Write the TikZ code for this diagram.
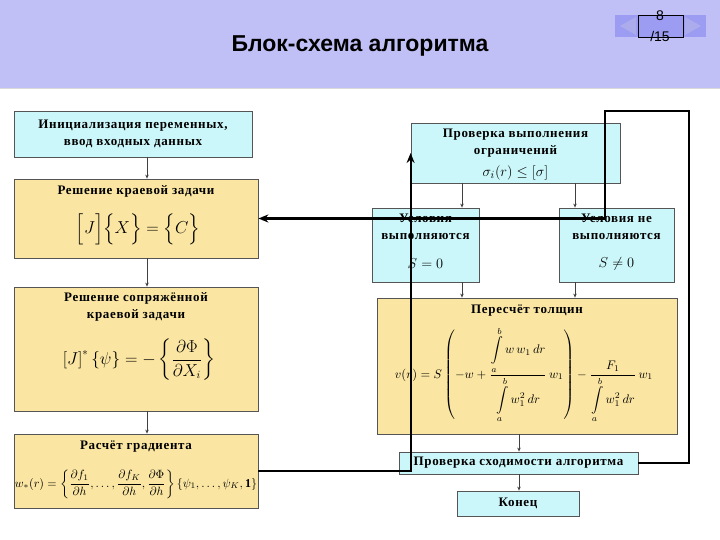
\documentclass[tikz,border=0pt]{standalone}
\usepackage{amsmath}
\usepackage{graphicx}
\usepackage{fontspec}
\setmainfont{Liberation Serif}
\newfontfamily\arialfont{Liberation Sans}
\newfontfamily\boxfont[LetterSpace=5]{Liberation Serif}
\usetikzlibrary{arrows.meta}
\definecolor{barcol}{HTML}{C0C0F7}
\definecolor{navcol}{HTML}{9C9CF2}
\definecolor{navtri}{HTML}{ACACEC}
\definecolor{cyanbox}{HTML}{CCF7FA}
\definecolor{yelbox}{HTML}{FAE6A2}
\definecolor{edgecol}{HTML}{555555}
\tikzset{
  boxbase/.style={draw=edgecol, line width=0.8pt, inner sep=0pt, align=center},
  cbox/.style={boxbase, fill=cyanbox},
  ybox/.style={boxbase, fill=yelbox},
  lblfont/.style={font=\boxfont\fontsize{13}{16.5}\selectfont\bfseries},
  lbl/.style={inner sep=0pt, align=center, lblfont},
  thinarrow/.style={draw=black!75, line width=0.7pt, -{Stealth[length=4pt,width=3.5pt]}},
  thickarrow/.style={draw=black, line width=2.2pt, -{Stealth[length=10pt,width=8pt]}}
}
\begin{document}
\begin{tikzpicture}[x=1pt,y=-1pt]
\useasboundingbox (0,0) rectangle (720,540);
\fill[white] (0,0) rectangle (720,540);
\fill[barcol] (0,0) rectangle (720,88);
\draw[black!15, line width=0.8pt] (0,88.5) -- (720,88.5);
% title
\node[inner sep=0pt, font=\arialfont\bfseries\fontsize{23}{27}\selectfont] (title) at (360,46) {Блок-схема алгоритма};
% navigation
\fill[navcol] (615,15) rectangle (706,37);
\fill[navtri] (620,26) -- (636,17) -- (636,35) -- cycle;
\fill[navtri] (685,17) -- (685,35) -- (701,26) -- cycle;
\node[draw=black, line width=0.7pt, fill=navcol, minimum width=45pt, minimum height=22pt, inner sep=0pt] (nav) at (660.5,26) {};
\node[inner sep=0pt, font=\arialfont\fontsize{14}{16}\selectfont] (pg) at (660,16) {8};
\node[inner sep=0pt, font=\arialfont\fontsize{14}{16}\selectfont] (pgt) at (660,36) {/15};

% boxes
\node[cbox, minimum width=238pt, minimum height=46pt, lblfont] (init) at (133,134) {Инициализация переменных,\\ввод входных данных};
\node[ybox, minimum width=244pt, minimum height=79pt] (b2) at (136,218.5) {};
\node[ybox, minimum width=244pt, minimum height=124pt] (b3) at (136,349) {};
\node[ybox, minimum width=244pt, minimum height=74pt] (grad) at (136,471) {};
\node[cbox, minimum width=209pt, minimum height=60pt] (chk) at (515.5,153) {};
\node[cbox, minimum width=107pt, minimum height=74pt] (ok) at (425.5,245) {};
\node[cbox, minimum width=115pt, minimum height=74pt] (nok) at (616.5,245) {};
\node[ybox, minimum width=300pt, minimum height=136pt] (recalc) at (527,366) {};
\node[cbox, minimum width=239pt, minimum height=22pt, lblfont] (conv) at (518.5,463) {Проверка сходимости алгоритма};
\node[cbox, minimum width=122pt, minimum height=25pt, lblfont] (fin) at (518,503.5) {Конец};

% texts inside boxes
\node[lbl] (t2) at (136,191) {Решение краевой задачи};
\node[inner sep=0pt, font=\fontsize{18}{22}\selectfont] (f2) at (138,229) {$\Bigl[J\Bigr]\Bigl\{X\Bigr\}=\Bigl\{C\Bigr\}$};
\node[lbl] (t3) at (136,307) {Решение сопряжённой\\краевой задачи};
\node[inner sep=0pt, font=\fontsize{16}{20}\selectfont] (f3) at (139,360) {$\left[J\right]^{*}\left\{\psi\right\}=-\left\{\dfrac{\partial\Phi}{\partial X_i}\right\}$};
\node[lbl] (t4) at (136,447) {Расчёт градиента};
\node[inner sep=0pt] (f4) at (136,484) {\resizebox{242pt}{!}{$w_*(r)=\left\{\dfrac{\partial f_1}{\partial h},\ldots,\dfrac{\partial f_K}{\partial h},\dfrac{\partial\Phi}{\partial h}\right\}\left\{\psi_1,\ldots,\psi_K,\mathbf{1}\right\}$}};
\node[lbl] (tc) at (515.5,143) {Проверка выполнения\\ограничений};
\node[inner sep=0pt, font=\fontsize{15}{18}\selectfont] (fc) at (515.5,173) {$\sigma_i(r)\le[\sigma]$};
\node[lbl] (tok) at (425.5,227) {Условия\\выполняются};
\node[inner sep=0pt, font=\fontsize{14}{18}\selectfont] (fok) at (425.5,264) {$S=0$};
\node[lbl] (tnok) at (616.5,227) {Условия не\\выполняются};
\node[inner sep=0pt, font=\fontsize{14}{18}\selectfont] (fnok) at (616.5,264) {$S\neq0$};
\node[lbl] (tr) at (527,311) {Пересчёт толщин};
\node[inner sep=0pt] (fr) at (524,375) {\resizebox{258pt}{!}{$v(r)=S\left(-w+\dfrac{\displaystyle\int\limits_a^b w\,w_1\,dr}{\displaystyle\int\limits_a^b w_1^2\,dr}\,w_1\right)-\dfrac{F_1}{\displaystyle\int\limits_a^b w_1^2\,dr}\,w_1$}};

% thin connectors
\coordinate (colL) at (147,0);
\coordinate (colA) at (462,0);
\coordinate (colB) at (575,0);
\coordinate (colC) at (519,0);
\draw[thinarrow] (init.south -| colL) -- (b2.north -| colL);
\draw[thinarrow] (b2.south -| colL) -- (b3.north -| colL);
\draw[thinarrow] (b3.south -| colL) -- (grad.north -| colL);
\draw[thinarrow] (chk.south -| colA) -- (ok.north -| colA);
\draw[thinarrow] (chk.south -| colB) -- (nok.north -| colB);
\draw[thinarrow] (ok.south -| colA) -- (recalc.north -| colA);
\draw[thinarrow] (nok.south -| colB) -- (recalc.north -| colB);
\draw[thinarrow] (recalc.south -| colC) -- (conv.north -| colC);
\draw[thinarrow] (conv.south -| colC) -- (fin.north -| colC);

% thick connectors
\draw[thickarrow] (grad.east) -| (chk.west);
\coordinate (r1) at (689,111);
\coordinate (r2) at (605,111);
\draw[thickarrow] (conv.east) -| (r1) -- (r2) |- (b2.east);
\end{tikzpicture}
\end{document}
